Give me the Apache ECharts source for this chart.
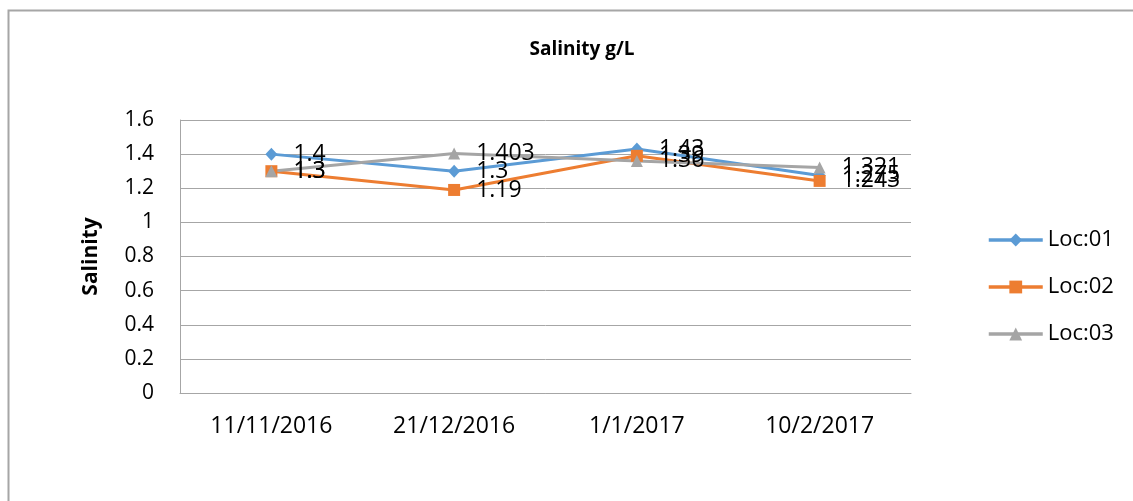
<!DOCTYPE html>
<html>
<head>
<meta charset="utf-8">
<script src="https://cdn.jsdelivr.net/npm/echarts@6/dist/echarts.min.js"></script>
<style>
  html, body { margin: 0; padding: 0; background: #fff; }
  #main { width: 1133px; height: 501px; }
</style>
</head>
<body>
<div id="main"></div>
<script>
// dates on the x axis
var dates = ['11/11/2016', '21/12/2016', '1/1/2017', '10/2/2017'];
// salinity per location, g/L
var loc01 = [1.4, 1.3, 1.43, 1.275];
var loc02 = [1.3, 1.19, 1.39, 1.243];
var loc03 = [1.3, 1.403, 1.36, 1.321];
var yTicks = [0, 0.2, 0.4, 0.6, 0.8, 1, 1.2, 1.4, 1.6];

var font = '"Open Sans", "Noto Sans", sans-serif';

function makeSeries(name, data, color, symbol) {
    return {
        name: name,
        type: 'line',
        data: data,
        symbol: symbol,
        symbolSize: symbol === 'diamond' ? [12, 13] : 12,
        lineStyle: { color: color, width: 3 },
        itemStyle: { color: color },
        label: {
            show: true,
            position: 'right',
            distance: 16,
            color: '#000',
            fontSize: 23,
            fontFamily: font,
            formatter: function (p) { return String(p.value); }
        }
    };
}

var chart = echarts.init(document.getElementById('main'));
chart.setOption({
    animation: false,
    backgroundColor: '#fff',
    graphic: [{
        type: 'rect',
        shape: { x: 8.5, y: 10.5, width: 1200, height: 600 },
        style: { fill: 'none', stroke: '#a6a6a6', lineWidth: 2 },
        silent: true
    }],
    title: {
        text: 'Salinity g/L',
        left: 577,
        top: 35,
        textAlign: 'center',
        textStyle: { fontSize: 19, fontWeight: 'bold', color: '#000', fontFamily: font }
    },
    legend: {
        orient: 'vertical',
        left: 987,
        top: 229,
        padding: 0,
        itemWidth: 54,
        itemHeight: 16,
        itemGap: 25,
        lineStyle: { width: 3.5 },
        textStyle: { fontSize: 22, color: '#000', fontFamily: font },
        data: ['Loc:01', 'Loc:02', 'Loc:03']
    },
    grid: { left: 180, right: 222, top: 120, bottom: 108 },
    xAxis: {
        type: 'category',
        data: dates,
        boundaryGap: true,
        axisLine: { lineStyle: { color: '#a6a6a6', width: 1 } },
        axisTick: { show: false },
        axisLabel: { fontSize: 23, color: '#000', margin: 22, fontFamily: font }
    },
    yAxis: {
        type: 'value',
        min: yTicks[0],
        max: yTicks[yTicks.length - 1],
        interval: 0.2,
        name: 'Salinity',
        nameLocation: 'middle',
        nameGap: 78,
        nameRotate: 90,
        nameTextStyle: { fontSize: 21, fontWeight: 'bold', color: '#000', fontFamily: font },
        axisLine: { show: true, lineStyle: { color: '#a6a6a6', width: 1 } },
        axisTick: { show: false },
        splitLine: { lineStyle: { color: '#a6a6a6', width: 1 } },
        axisLabel: {
            fontSize: 21, color: '#000', margin: 26, fontFamily: font,
            formatter: function (v) { return String(Math.round(v * 10) / 10); }
        }
    },
    series: [
        makeSeries('Loc:01', loc01, '#5B9BD5', 'diamond'),
        makeSeries('Loc:02', loc02, '#ED7D31', 'rect'),
        makeSeries('Loc:03', loc03, '#A5A5A5', 'triangle')
    ]
});
</script>
</body>
</html>
